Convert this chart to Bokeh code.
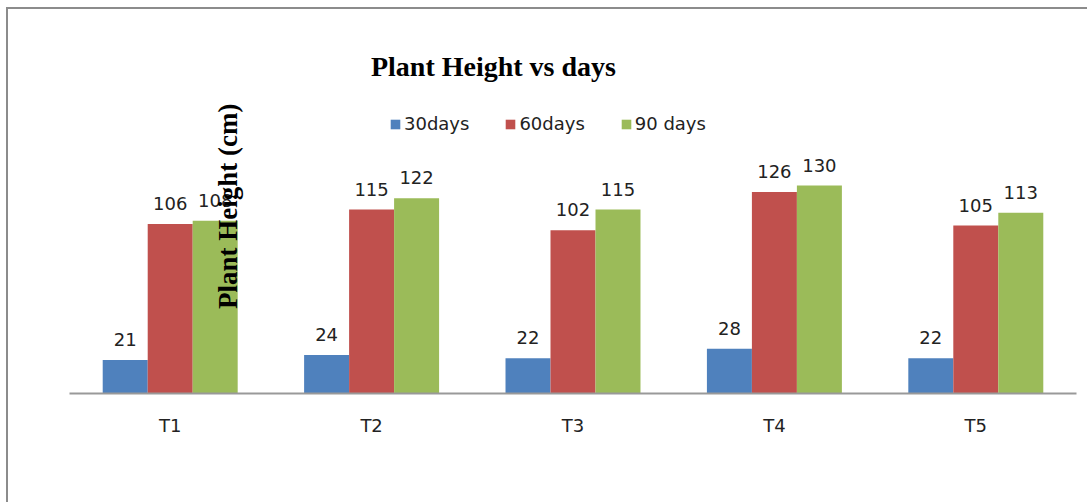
import math
from bokeh.plotting import figure
from bokeh.layouts import column
from bokeh.models import (ColumnDataSource, FactorRange, Label, LabelSet, Legend, LegendItem,
                          Range1d)
from bokeh.transform import dodge
from bokeh.core.properties import value
from bokeh.embed import file_html
from bokeh.resources import INLINE

treatments = ["T1", "T2", "T3", "T4", "T5"]
series_names = ["30days", "60days", "90 days"]
days30 = [21, 24, 22, 28, 22]
days60 = [106, 115, 102, 126, 105]
days90 = [108, 122, 115, 130, 113]
colors = ["#4F81BD", "#C0504D", "#9BBB59"]

source = ColumnDataSource(dict(
    t=treatments,
    d30=days30, d60=days60, d90=days90,
    l30=[str(v) for v in days30],
    l60=[str(v) for v in days60],
    l90=[str(v) for v in days90],
))

p = figure(
    x_range=FactorRange(*treatments, range_padding=0),
    y_range=Range1d(0, 240),
    width=1081, height=495,
    output_backend="svg", toolbar_location=None,
    y_axis_location=None, title=None,
    min_border_left=61, min_border_right=13,
    min_border_top=0, min_border_bottom=111,
)
p.styles = {"border-top": "2px solid #8c8c8c", "border-left": "2px solid #8c8c8c"}

bw = 0.2234
items = []
for off, top, lab, col, name in zip([-bw, 0, bw], ["d30", "d60", "d90"], ["l30", "l60", "l90"], colors, series_names):
    r = p.vbar(x=dodge("t", off, range=p.x_range), top=top, width=bw, source=source,
               fill_color=col, line_color=None)
    items.append(LegendItem(label=name, renderers=[r]))
    p.add_layout(LabelSet(x=dodge("t", off, range=p.x_range), y=top, text=lab, source=source,
                          y_offset=14, text_align="center", text_baseline="alphabetic",
                          text_font=value("DejaVu Sans"), text_font_size="18px", text_color="#222222"))

legend = Legend(items=items, orientation="horizontal", location=(320, 259),
                glyph_width=12, glyph_height=12, label_standoff=3, spacing=35,
                padding=0, margin=0, border_line_color=None, background_fill_alpha=0,
                label_text_font="DejaVu Sans", label_text_font_size="18px", label_text_color="#222222")
p.add_layout(legend)

p.xaxis.axis_line_color = "#999999"
p.xaxis.axis_line_width = 2
p.xaxis.major_tick_line_color = None
p.xaxis.minor_tick_line_color = None
p.xaxis.major_label_text_font = "DejaVu Sans"
p.xaxis.major_label_text_font_size = "18px"
p.xaxis.major_label_text_color = "#222222"
p.xaxis.major_label_standoff = 15
p.xgrid.visible = False
p.ygrid.visible = False
p.outline_line_color = None

p.add_layout(Label(x=2.105, y=204.5, text="Plant Height vs days", text_align="center",
                   text_baseline="alphabetic", text_font="Liberation Serif", text_font_style="bold",
                   text_font_size="28px", text_color="#000000"))
p.add_layout(Label(x=0.787, y=117, text="Plant Height (cm)", angle=math.pi / 2,
                   text_align="center", text_baseline="middle", text_font="Liberation Serif",
                   text_font_style="bold", text_font_size="27px", text_color="#000000"))

layout = column(p, styles={"padding-left": "6px", "padding-top": "7px"})
open("out.html", "w").write(file_html(layout, INLINE))
